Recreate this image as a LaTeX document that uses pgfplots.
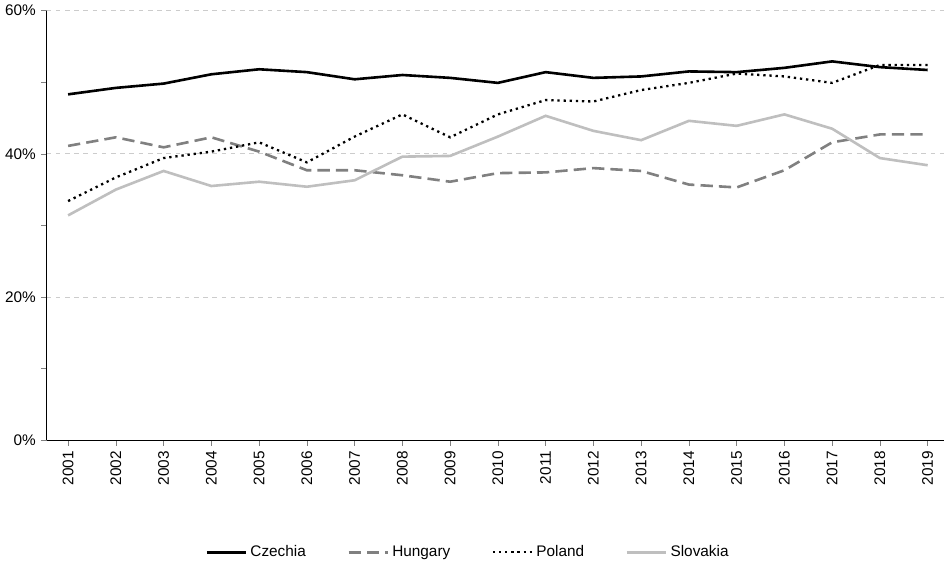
\documentclass[border=0pt]{standalone}
\usepackage{pgfplots}
\pgfplotsset{compat=1.18}
\usepackage{fontspec}
\setmainfont{Liberation Sans}
\begin{document}
\begin{tikzpicture}
\begin{axis}[
  width=585pt, height=280pt, scale only axis,
  xmin=2000.55, xmax=2019.35, ymin=0, ymax=60,
  xtick={2001,...,2019}, xticklabel style={rotate=90,anchor=east},
  /pgf/number format/1000 sep={},
  ytick={0,20,40,60}, yticklabel={\pgfmathprintnumber{\tick}\%},
  minor ytick={10,30,50},
  /pgf/number format/assume math mode=true,
  ymajorgrids, grid style={dashed,gray!40},
  axis x line*=bottom, axis y line*=left,
  tick align=outside, major tick length=3.5pt, minor tick length=3.5pt,
  axis line style={line width=0.8pt},
  legend style={at={(0.47,-0.23)},anchor=north,draw=none,legend columns=4,
    /tikz/every even column/.append style={column sep=25pt}},
  legend image post style={xscale=1.5},
]
\addplot[black,line width=1.7pt] coordinates {(2001,48.3)(2002,49.2)(2003,49.8)(2004,51.1)(2005,51.8)(2006,51.4)(2007,50.4)(2008,51.0)(2009,50.6)(2010,49.9)(2011,51.4)(2012,50.6)(2013,50.8)(2014,51.5)(2015,51.4)(2016,52.0)(2017,52.9)(2018,52.1)(2019,51.7)};
\addlegendentry{Czechia}
\addplot[gray,line width=1.7pt,dash pattern=on 8pt off 4pt] coordinates {(2001,41.1)(2002,42.3)(2003,40.9)(2004,42.3)(2005,40.3)(2006,37.7)(2007,37.7)(2008,37.0)(2009,36.1)(2010,37.3)(2011,37.4)(2012,38.0)(2013,37.6)(2014,35.7)(2015,35.3)(2016,37.7)(2017,41.6)(2018,42.7)(2019,42.7)};
\addlegendentry{Hungary}
\addplot[black,line width=1.5pt,dash pattern=on 1.5pt off 2.5pt] coordinates {(2001,33.4)(2002,36.7)(2003,39.4)(2004,40.3)(2005,41.6)(2006,38.8)(2007,42.4)(2008,45.5)(2009,42.3)(2010,45.5)(2011,47.5)(2012,47.3)(2013,48.9)(2014,49.9)(2015,51.2)(2016,50.8)(2017,49.9)(2018,52.4)(2019,52.4)};
\addlegendentry{Poland}
\addplot[gray!50,line width=1.7pt] coordinates {(2001,31.4)(2002,35.0)(2003,37.6)(2004,35.5)(2005,36.1)(2006,35.4)(2007,36.3)(2008,39.6)(2009,39.7)(2010,42.4)(2011,45.3)(2012,43.2)(2013,41.9)(2014,44.6)(2015,43.9)(2016,45.5)(2017,43.5)(2018,39.4)(2019,38.4)};
\addlegendentry{Slovakia}
\end{axis}
\end{tikzpicture}
\end{document}
